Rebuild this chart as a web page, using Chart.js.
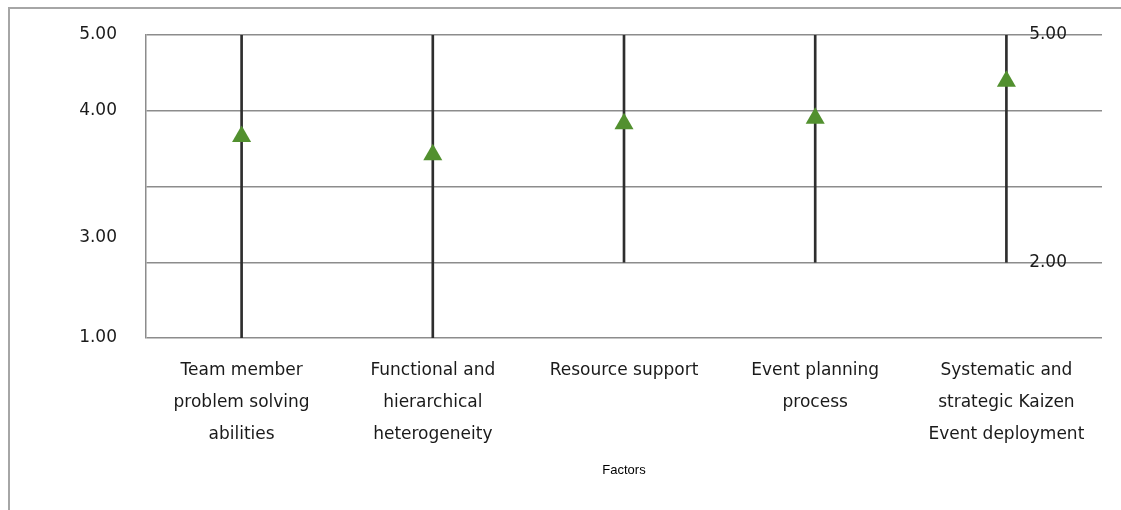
<!DOCTYPE html>
<html>
<head>
<meta charset="utf-8">
<script src="https://cdn.jsdelivr.net/npm/chart.js@4"></script>
<style>
  html, body { margin: 0; padding: 0; background: #fff; }
  #wrap { position: relative; width: 1121px; height: 510px; }
  #frame {
    position: absolute; left: 8px; top: 7px; right: 0; bottom: 0;
    border-top: 2px solid #a6a6a6; border-left: 2px solid #a6a6a6;
    pointer-events: none;
  }
  canvas { position: absolute; left: 0; top: 0; }
</style>
</head>
<body>
<div id="wrap">
  <canvas id="factorChart" width="1121" height="510"></canvas>
  <div id="frame"></div>
</div>
<script>
/* ── Data ── */
const categories = [
  ["Team member", "problem solving", "abilities"],
  ["Functional and", "hierarchical", "heterogeneity"],
  ["Resource support"],
  ["Event planning", "process"],
  ["Systematic and", "strategic Kaizen", "Event deployment"],
];
const meanScores = [3.66, 3.42, 3.83, 3.90, 4.39];
const rangeLow = [1, 1, 2, 2, 2];
const rangeHigh = [5, 5, 5, 5, 5];

// left axis labels as printed (3.00 sits off its gridline in the original)
const leftTickValues = [1, 2, 2.33, 3, 4, 5];
const leftTickLabels = ["1.00", "", "3.00", "", "4.00", "5.00"];
const rightTickValues = [2, 5];
const rightTickLabels = ["2.00", "5.00"];

/* ── Chart ── */
Chart.defaults.font.family = "'DejaVu Sans', sans-serif";
Chart.defaults.font.size = 17;
Chart.defaults.color = "#1a1a1a";

const GRID = "#8c8c8c";

// fixed box sizes so the plot area lands where the original has it
function fixWidth(w) {
  return (scale) => {
    scale.width = w;
    scale.paddingTop = 0;
    scale.paddingBottom = 0;
  };
}

new Chart(document.getElementById("factorChart").getContext("2d"), {
  data: {
    labels: categories,
    datasets: [
      {
        type: "bar",
        label: "Range",
        data: rangeLow.map((lo, i) => [lo, rangeHigh[i]]),
        backgroundColor: "#2e2e2e",
        barThickness: 2,
        borderWidth: 0,
        order: 2,
      },
      {
        type: "line",
        label: "Mean",
        data: meanScores,
        showLine: false,
        pointStyle: "triangle",
        pointRadius: 11,
        pointHoverRadius: 11,
        pointBackgroundColor: "#52902f",
        pointBorderWidth: 0,
        order: 1,
      },
    ],
  },
  options: {
    responsive: false,
    animation: false,
    layout: { padding: { top: 35, left: 0, right: 0, bottom: 0 } },
    scales: {
      x: {
        grid: { display: false, drawTicks: false },
        border: { display: false },
        ticks: {
          padding: 16,
          maxRotation: 0,
          autoSkip: false,
          font: { size: 17, lineHeight: 1.9 },
          color: "#1a1a1a",
        },
        title: {
          display: true,
          text: "Factors",
          font: { family: "'Liberation Sans', sans-serif", size: 13 },
          color: "#000",
          padding: { top: 0, bottom: 32 },
        },
        afterFit: (scale) => {
          scale.height = 172;
          scale.paddingLeft = 0;
          scale.paddingRight = 0;
        },
      },
      y: {
        position: "left",
        min: 1,
        max: 5,
        afterBuildTicks: (axis) => {
          axis.ticks = leftTickValues.map((v) => ({ value: v }));
        },
        ticks: {
          padding: 29,
          callback: (value) => leftTickLabels[leftTickValues.indexOf(value)],
        },
        grid: {
          drawTicks: false,
          lineWidth: 1.5,
          color: (ctx) =>
            ctx.tick && Number.isInteger(ctx.tick.value) ? GRID : "rgba(0,0,0,0)",
        },
        border: { display: true, color: GRID, width: 1.5 },
        afterFit: fixWidth(146),
      },
      y2: {
        position: "right",
        min: 1,
        max: 5,
        afterBuildTicks: (axis) => {
          axis.ticks = rightTickValues.map((v) => ({ value: v }));
        },
        ticks: {
          mirror: true,
          padding: -35,
          callback: (value) => rightTickLabels[rightTickValues.indexOf(value)],
        },
        grid: { display: false, drawTicks: false },
        border: { display: false },
        afterFit: fixWidth(19),
      },
    },
    plugins: {
      legend: { display: false },
      tooltip: { enabled: false },
    },
  },
});
</script>
</body>
</html>
